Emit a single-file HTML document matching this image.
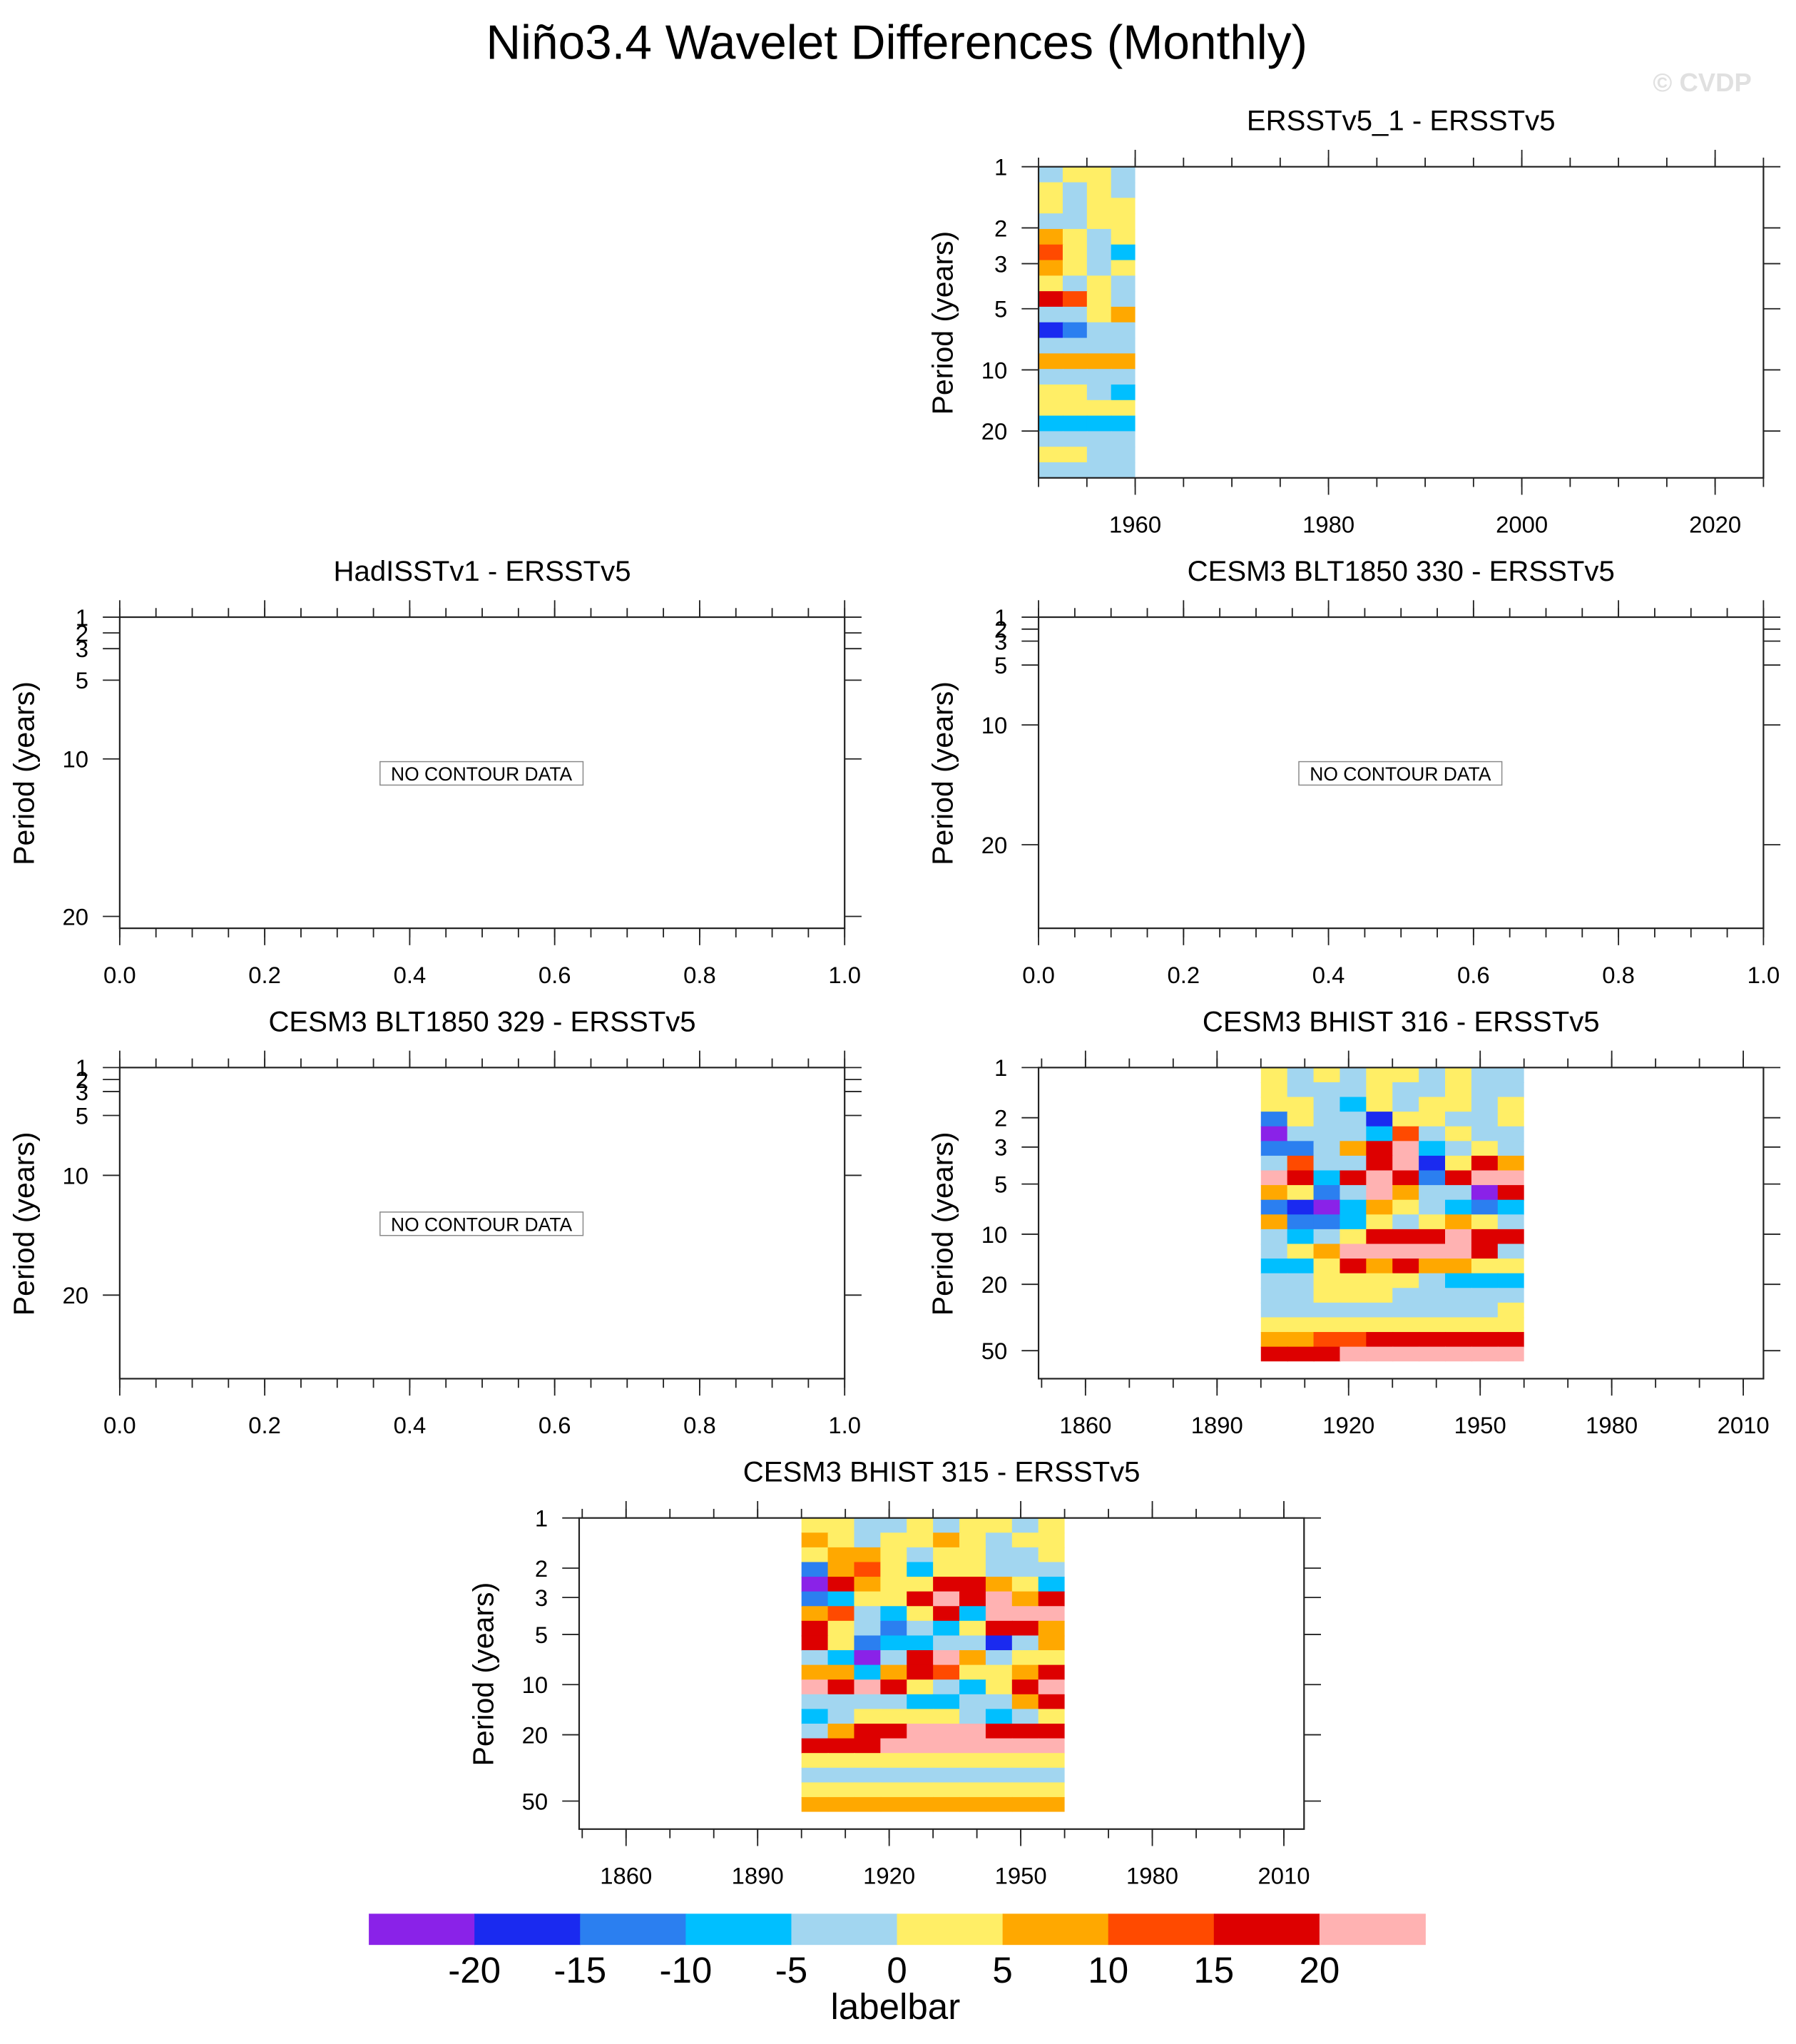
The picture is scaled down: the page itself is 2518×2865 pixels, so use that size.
<!DOCTYPE html>
<html><head><meta charset="utf-8"><style>
html,body{margin:0;padding:0;background:#fff;}
svg{display:block;font-family:"Liberation Sans",sans-serif;}
</style></head><body>
<svg id="root" width="2518" height="2865" viewBox="0 0 1380 1570" xmlns="http://www.w3.org/2000/svg">
<rect x="0" y="0" width="1380" height="1570" fill="#fff"/>
<text x="689" y="45" font-size="37" text-anchor="middle">Niño3.4 Wavelet Differences (Monthly)</text>
<text x="1308" y="70" font-size="20" font-weight="bold" fill="#e0e0e0" text-anchor="middle">© CVDP</text>
<g id="panels"></g>
<g id="labelbar"></g>
</svg>
<script>
// ---- chart data ----
const levelBounds = [-20,-15,-10,-5,0,5,10,15,20];
const levelColors = ["#8a22e8","#1a2af0","#2b7ff0","#00bfff","#a2d6f0","#ffee66","#ffa800","#ff4a00","#dd0000","#ffb2b2"];
const labelbarTicks = ["-20","-15","-10","-5","0","5","10","15","20"];

const p1Years = [1950,1960];
const p1PeriodMax = 34;
const p1Values = [
[-2,2,2,-2],[2,-2,2,-2],[2,-2,2,2],[-2,-2,2,2],[7,2,-2,2],
[12,2,-2,-7],[7,2,-2,2],[2,-2,2,-2],[17,12,2,-2],[-2,-2,2,7],
[-17,-12,-2,-2],[-2,-2,-2,-2],[7,7,7,7],[-2,-2,-2,-2],[2,2,-2,-7],
[2,2,2,2],[-7,-7,-7,-7],[-2,-2,-2,-2],[2,2,-2,-2],[-2,-2,-2,-2]];

const p5Years = [1900,1960];
const p5PeriodMax = 58;
const p5Values = [
[2,-2,2,-2,2,2,-2,2,-2,-2],
[2,-2,-2,-2,2,-2,-2,2,-2,-2],
[2,2,-2,-7,2,-2,2,2,-2,2],
[-12,2,-2,-2,-17,2,2,-2,-2,2],
[-22,-2,-2,-2,-7,12,-2,2,-2,-2],
[-12,-12,-2,7,17,22,-7,-2,2,-2],
[-2,12,-2,-2,17,22,-17,2,17,7],
[22,17,-7,17,22,17,-12,17,22,22],
[7,2,-12,-2,22,7,-2,-2,-22,17],
[-12,-17,-22,-7,7,2,-2,-7,-12,-7],
[7,-12,-12,-7,2,-2,2,7,2,-2],
[-2,-7,-2,2,17,17,17,22,17,17],
[-2,2,7,22,22,22,22,22,17,-2],
[-7,-7,2,17,7,17,7,7,2,2],
[-2,-2,2,2,2,2,-2,-7,-7,-7],
[-2,-2,2,2,2,-2,-2,-2,-2,-2],
[-2,-2,-2,-2,-2,-2,-2,-2,-2,2],
[2,2,2,2,2,2,2,2,2,2],
[7,7,12,12,17,17,17,17,17,17],
[17,17,17,22,22,22,22,22,22,22]];

const p6Years = [1900,1960];
const p6PeriodMax = 58;
const p6Values = [
[2,2,-2,-2,2,-2,2,2,-2,2],
[7,2,-2,2,2,7,2,-2,2,2],
[2,7,7,2,-2,2,2,-2,-2,2],
[-12,7,12,2,-7,2,2,-2,-2,-2],
[-22,17,7,2,2,17,17,7,2,-7],
[-12,-7,2,2,17,22,17,22,7,17],
[7,12,-2,-7,2,17,-7,22,22,22],
[17,2,-2,-12,-2,-7,2,17,17,7],
[17,2,-12,-7,-7,-2,-2,-17,-2,7],
[-2,-7,-22,-2,17,22,7,-2,2,2],
[7,7,-7,7,17,12,2,2,7,17],
[22,17,22,17,2,-2,-7,2,17,22],
[-2,-2,-2,-2,-7,-7,-2,-2,7,17],
[-7,-2,2,2,2,2,-2,-7,-2,2],
[-2,7,17,17,22,22,22,17,17,17],
[17,17,17,22,22,22,22,22,22,22],
[2,2,2,2,2,2,2,2,2,2],
[-2,-2,-2,-2,-2,-2,-2,-2,-2,-2],
[2,2,2,2,2,2,2,2,2,2],
[7,7,7,7,7,7,7,7,7,7]];

const yearTicks1 = [1960,1980,2000,2020];
const yearTicks56 = [1860,1890,1920,1950,1980,2010];
const fracTicks = ["0.0","0.2","0.4","0.6","0.8","1.0"];
const periodTicksLog1 = [1,2,3,5,10,20];
const periodTicksLog56 = [1,2,3,5,10,20,50];
const periodTicksLin = [1,2,3,5,10,20];

const NS = "http://www.w3.org/2000/svg";
function mk(tag, attrs, parent){
  const e = document.createElementNS(NS, tag);
  for (const k in attrs) e.setAttribute(k, attrs[k]);
  parent.appendChild(e); return e;
}
function colorFor(v){
  let i = 0; while (i < levelBounds.length && v >= levelBounds[i]) i++;
  return levelColors[i];
}

const panels = [
 {key:"ersstv5-1", title:"ERSSTv5_1 - ERSSTv5", x0:798, y0:128, xmin:1950, xmax:2025, xmajor:yearTicks1, xminorStep:5, xminorStart:1950,
  ytype:"log", pmax:34, yticks:periodTicksLog1, years:p1Years, pdmax:p1PeriodMax, vals:p1Values},
 {key:"hadisst", title:"HadISSTv1 - ERSSTv5", x0:92, y0:474, xmin:0, xmax:1, xfrac:true, xminorStep:0.05, xminorStart:0,
  ytype:"lin", pmin:1, pmax:1+239/12.1, yticks:periodTicksLin, nodata:true},
 {key:"blt1850-330", title:"CESM3 BLT1850 330 - ERSSTv5", x0:798, y0:474, xmin:0, xmax:1, xfrac:true, xminorStep:0.05, xminorStart:0,
  ytype:"lin", pmin:1, pmax:1+239/9.2, yticks:periodTicksLin, nodata:true},
 {key:"blt1850-329", title:"CESM3 BLT1850 329 - ERSSTv5", x0:92, y0:820, xmin:0, xmax:1, xfrac:true, xminorStep:0.05, xminorStart:0,
  ytype:"lin", pmin:1, pmax:1+239/9.2, yticks:periodTicksLin, nodata:true},
 {key:"bhist-316", title:"CESM3 BHIST 316 - ERSSTv5", x0:798, y0:820, xmin:1849.3, xmax:2014.6, xmajor:yearTicks56, xminorStep:10, xminorStart:1850,
  ytype:"log", pmax:Math.pow(10,239/128), yticks:periodTicksLog56, years:p5Years, pdmax:p5PeriodMax, vals:p5Values},
 {key:"bhist-315", title:"CESM3 BHIST 315 - ERSSTv5", x0:445, y0:1166, xmin:1849.3, xmax:2014.6, xmajor:yearTicks56, xminorStep:10, xminorStart:1850,
  ytype:"log", pmax:Math.pow(10,239/128), yticks:periodTicksLog56, years:p6Years, pdmax:p6PeriodMax, vals:p6Values}
];

const W = 557, H = 239;
const root = document.getElementById("panels");
panels.forEach(p => {
  const g = mk("g", {}, root);
  
  
  const xs = v => p.x0 + (v - p.xmin) / (p.xmax - p.xmin) * W;
  const ys = per => p.ytype === "log"
    ? p.y0 + Math.log10(per) / Math.log10(p.pmax) * H
    : p.y0 + (per - p.pmin) / (p.pmax - p.pmin) * H;

  const t = mk("text", {x:p.x0 + W/2, y:p.y0 - 28, "font-size":22, "text-anchor":"middle"}, g);
  t.textContent = p.title;
  
  

  if (p.vals) {
    const cg = mk("g", {}, g);
    
    
    const nr = p.vals.length, nc = p.vals[0].length;
    const lmax = Math.log10(p.pdmax);
    for (let i = 0; i < nr; i++) {
      const ya = ys(Math.pow(10, i * lmax / nr)), yb = ys(Math.pow(10, (i + 1) * lmax / nr));
      for (let j = 0; j < nc; j++) {
        const y0 = p.years[0] + j * (p.years[1] - p.years[0]) / nc;
        const y1 = p.years[0] + (j + 1) * (p.years[1] - p.years[0]) / nc;
        const xa = xs(y0), xb = xs(y1);
        const extraW = (j < nc - 1) ? 0.6 : 0;
        const extraH = (i < nr - 1) ? 0.6 : 0;
        const r = mk("rect", {x:xa, y:ya, width:xb - xa + extraW, height:yb - ya + extraH, fill:colorFor(p.vals[i][j])}, cg);
        
        
      }
    }
  }

  const f = mk("rect", {x:p.x0, y:p.y0, width:W, height:H, fill:"none", stroke:"#222", "stroke-width":1.2}, g);
  
  

  const xt = mk("g", {stroke:"#222", "stroke-width":1}, g);
  
  
  for (let v = p.xminorStart; v <= p.xmax + 1e-9; v += p.xminorStep) {
    const x = xs(v);
    if (x < p.x0 - 0.5) continue;
    mk("line", {x1:x, x2:x, y1:p.y0, y2:p.y0 - 7}, xt);
    mk("line", {x1:x, x2:x, y1:p.y0 + H, y2:p.y0 + H + 7}, xt);
  }
  const majors = p.xfrac ? fracTicks.map(Number) : p.xmajor;
  const labels = p.xfrac ? fracTicks : p.xmajor.map(String);
  majors.forEach((v, k) => {
    const x = xs(v);
    mk("line", {x1:x, x2:x, y1:p.y0, y2:p.y0 - 13}, xt);
    mk("line", {x1:x, x2:x, y1:p.y0 + H, y2:p.y0 + H + 13}, xt);
    const tl = mk("text", {x:x, y:p.y0 + H + 42, "font-size":18, "text-anchor":"middle", stroke:"none"}, g);
    tl.textContent = labels[k];
    
    
  });

  const yt = mk("g", {stroke:"#222", "stroke-width":1}, g);
  
  
  p.yticks.forEach(per => {
    const y = ys(per);
    mk("line", {x1:p.x0, x2:p.x0 - 13, y1:y, y2:y}, yt);
    mk("line", {x1:p.x0 + W, x2:p.x0 + W + 13, y1:y, y2:y}, yt);
    const tl = mk("text", {x:p.x0 - 24, y:y + 6.5, "font-size":18, "text-anchor":"end"}, g);
    tl.textContent = String(per);
    
    
  });

  const yl = mk("text", {x:0, y:0, "font-size":22.5, "text-anchor":"middle", transform:"translate(" + (p.x0 - 66) + "," + (p.y0 + 120) + ") rotate(-90)"}, g);
  yl.textContent = "Period (years)";
  
  

  if (p.nodata) {
    const cx = p.x0 + 278, cy = p.y0 + 120;
    const b = mk("rect", {x:cx - 78, y:cy - 9, width:156, height:18, fill:"#fff", stroke:"#888", "stroke-width":0.8}, g);
    
    
    const nt = mk("text", {x:cx, y:cy + 5.5, "font-size":14.5, "text-anchor":"middle"}, g);
    nt.textContent = "NO CONTOUR DATA";
    
    
  }
});

const lb = document.getElementById("labelbar");
const lbx0 = 283.4, lbw = 81.16, lby = 1470, lbh = 24;
levelColors.forEach((c, i) => {
  const r = mk("rect", {x:lbx0 + i * lbw, y:lby, width:lbw + 0.5, height:lbh, fill:c}, lb);
  
  
});
labelbarTicks.forEach((s, i) => {
  const tl = mk("text", {x:lbx0 + (i + 1) * lbw, y:1523, "font-size":28, "text-anchor":"middle"}, lb);
  tl.textContent = s;
  
  
});
const lbt = mk("text", {x:688, y:1551, "font-size":28, "text-anchor":"middle"}, lb);
lbt.textContent = "labelbar";


</script>
</body></html>
